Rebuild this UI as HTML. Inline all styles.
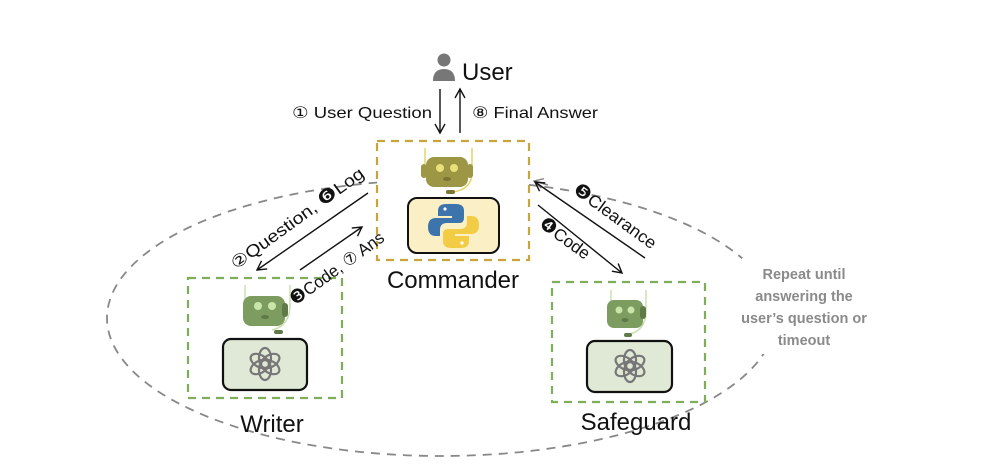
<!DOCTYPE html>
<html><head><meta charset="utf-8"><style>
html,body{margin:0;padding:0;background:#fff;}
svg{display:block;font-family:"Liberation Sans","DejaVu Sans",sans-serif;}
</style></head><body>
<svg width="988" height="466" viewBox="0 0 988 466" xmlns="http://www.w3.org/2000/svg">
<defs>
<marker id="ah" markerWidth="12" markerHeight="12" refX="10" refY="6" orient="auto" markerUnits="userSpaceOnUse">
<path d="M1,1 L10,6 L1,11" fill="none" stroke="#111" stroke-width="1.4"/></marker>
<marker id="ahg" markerWidth="12" markerHeight="12" refX="10" refY="6" orient="auto" markerUnits="userSpaceOnUse">
<path d="M1,1 L10,6 L1,11" fill="none" stroke="#888" stroke-width="1.4"/></marker>
<g id="gpt">
<g fill="none" stroke="#777" stroke-width="2.2">
<ellipse cx="0" cy="-6" rx="6" ry="10"/>
<ellipse cx="0" cy="-6" rx="6" ry="10" transform="rotate(60)"/>
<ellipse cx="0" cy="-6" rx="6" ry="10" transform="rotate(120)"/>
<ellipse cx="0" cy="-6" rx="6" ry="10" transform="rotate(180)"/>
<ellipse cx="0" cy="-6" rx="6" ry="10" transform="rotate(240)"/>
<ellipse cx="0" cy="-6" rx="6" ry="10" transform="rotate(300)"/>
</g></g>
</defs>

<ellipse cx="441" cy="318" rx="334" ry="138" fill="none" stroke="#888" stroke-width="1.8" stroke-dasharray="9,7"/>
<line x1="548" y1="185" x2="534" y2="181" stroke="#888" stroke-width="1.5" marker-end="url(#ahg)"/>

<rect x="742" y="258" width="125" height="96" fill="#fff"/>
<g fill="#8a8a8a" font-size="14.5" font-weight="bold" text-anchor="middle">
<text x="804" y="279">Repeat until</text>
<text x="804" y="301">answering the</text>
<text x="804" y="323">user’s question or</text>
<text x="804" y="345">timeout</text>
</g>

<rect x="377" y="141" width="152" height="119" fill="#fff" stroke="#c9a43a" stroke-width="2.2" stroke-dasharray="8,6"/>
<g>
<path d="M425,148 V164 M472,148 V172 Q472,190 452,192" fill="none" stroke="#e6d36a" stroke-width="1.5"/>
<rect x="426" y="157" width="42" height="30" rx="8" fill="#9d9644"/>
<rect x="421" y="164" width="6" height="14" rx="3" fill="#9d9644"/>
<rect x="467" y="164" width="6" height="14" rx="3" fill="#9d9644"/>
<circle cx="440" cy="168" r="4" fill="#e8e07a"/>
<circle cx="454" cy="168" r="4" fill="#e8e07a"/>
<ellipse cx="447" cy="179" rx="4" ry="2" fill="#7a7530"/>
<rect x="446" y="190" width="9" height="4" rx="2" fill="#7a7530"/>
</g>
<rect x="408" y="198" width="91" height="55" rx="9" fill="#fbefc6" stroke="#111" stroke-width="2"/>
<g>
<path d="M452,204 h-6 q-8,0 -8,7 v5 h14 v2 h-16 q-8,0 -8,9 q0,9 8,9 h4 v-6 q0,-7 7,-7 h12 q5,0 5,-5 v-7 q0,-7 -8,-7 z" fill="#3d74ac"/>
<path d="M455,248 h6 q8,0 8,-7 v-5 h-14 v-2 h16 q8,0 8,-9 q0,-9 -8,-9 h-4 v6 q0,7 -7,7 h-12 q-5,0 -5,5 v7 q0,7 8,7 z" fill="#f2cc45"/>
<circle cx="445" cy="209" r="1.6" fill="#fff"/><circle cx="462" cy="243" r="1.6" fill="#fff"/>
</g>
<text x="453" y="288" font-size="24" text-anchor="middle" fill="#111">Commander</text>

<circle cx="444" cy="60" r="6.5" fill="#777"/>
<path d="M433,81 q0,-12 11,-12 q11,0 11,12 z" fill="#777"/>
<text x="462" y="80" font-size="24" fill="#111">User</text>
<line x1="440" y1="89" x2="440" y2="133" stroke="#111" stroke-width="1.4" marker-end="url(#ah)"/>
<line x1="460" y1="133" x2="460" y2="89" stroke="#111" stroke-width="1.4" marker-end="url(#ah)"/>
<text x="292" y="118" font-size="16" fill="#111" textLength="140" lengthAdjust="spacingAndGlyphs">① User Question</text>
<text x="472" y="118" font-size="16" fill="#111" textLength="126" lengthAdjust="spacingAndGlyphs">⑧ Final Answer</text>

<rect x="188" y="278" width="154" height="120" fill="#fff" stroke="#7fae5a" stroke-width="2.2" stroke-dasharray="8,6"/>
<g>
<path d="M245,285 V300 M290,285 V305 Q290,326 272,330" fill="none" stroke="#c8e0b0" stroke-width="1.5"/>
<rect x="243" y="296" width="42" height="30" rx="8" fill="#7d9c60"/>
<rect x="282" y="303" width="6" height="14" rx="3" fill="#5f7a48"/>
<circle cx="258" cy="306" r="4" fill="#c9e6a8"/><circle cx="272" cy="306" r="4" fill="#c9e6a8"/>
<ellipse cx="265" cy="317" rx="4" ry="2" fill="#5f7a48"/>
<rect x="274" y="330" width="9" height="4" rx="2" fill="#5f7a48"/>
</g>
<rect x="223" y="339" width="84" height="51" rx="8" fill="#dfe9d5" stroke="#111" stroke-width="2.2"/>
<use href="#gpt" x="265" y="364"/>
<text x="272" y="432" font-size="24" text-anchor="middle" fill="#111">Writer</text>

<rect x="552" y="282" width="153" height="120" fill="#fff" stroke="#7fae5a" stroke-width="2.2" stroke-dasharray="8,6"/>
<g>
<path d="M611,290 V304 M646,290 V310 Q646,330 630,334" fill="none" stroke="#c8e0b0" stroke-width="1.5"/>
<rect x="607" y="300" width="36" height="28" rx="7" fill="#7d9c60"/>
<rect x="640" y="306" width="6" height="13" rx="3" fill="#5f7a48"/>
<circle cx="619" cy="310" r="3.5" fill="#c9e6a8"/><circle cx="631" cy="310" r="3.5" fill="#c9e6a8"/>
<ellipse cx="625" cy="320" rx="3.5" ry="2" fill="#5f7a48"/>
<rect x="624" y="333" width="8" height="4" rx="2" fill="#5f7a48"/>
</g>
<rect x="587" y="341" width="85" height="51" rx="8" fill="#dfe9d5" stroke="#111" stroke-width="2.2"/>
<use href="#gpt" x="630" y="366"/>
<text x="636" y="430" font-size="24" text-anchor="middle" fill="#111">Safeguard</text>

<line x1="368" y1="193" x2="257" y2="270" stroke="#111" stroke-width="1.4" marker-end="url(#ah)"/>
<line x1="300" y1="270" x2="362" y2="227" stroke="#111" stroke-width="1.4" marker-end="url(#ah)"/>
<g font-size="17" fill="#111">
<text transform="translate(236,270) rotate(-36)" textLength="160" lengthAdjust="spacingAndGlyphs">②Question, <tspan font-size="19">❻</tspan>Log</text>
<text transform="translate(295,306) rotate(-36)" textLength="112" lengthAdjust="spacingAndGlyphs"><tspan font-size="19">❸</tspan>Code, ⑦ Ans</text>
</g>

<line x1="645" y1="258" x2="535" y2="182" stroke="#111" stroke-width="1.4" marker-end="url(#ah)"/>
<line x1="538" y1="205" x2="622" y2="273" stroke="#111" stroke-width="1.4" marker-end="url(#ah)"/>
<g font-size="17" fill="#111">
<text transform="translate(572,192) rotate(36)" textLength="98" lengthAdjust="spacingAndGlyphs"><tspan font-size="19">❺</tspan>Clearance</text>
<text transform="translate(538,226) rotate(36)" textLength="58" lengthAdjust="spacingAndGlyphs"><tspan font-size="19">❹</tspan>Code</text>
</g>
</svg>
</body></html>
